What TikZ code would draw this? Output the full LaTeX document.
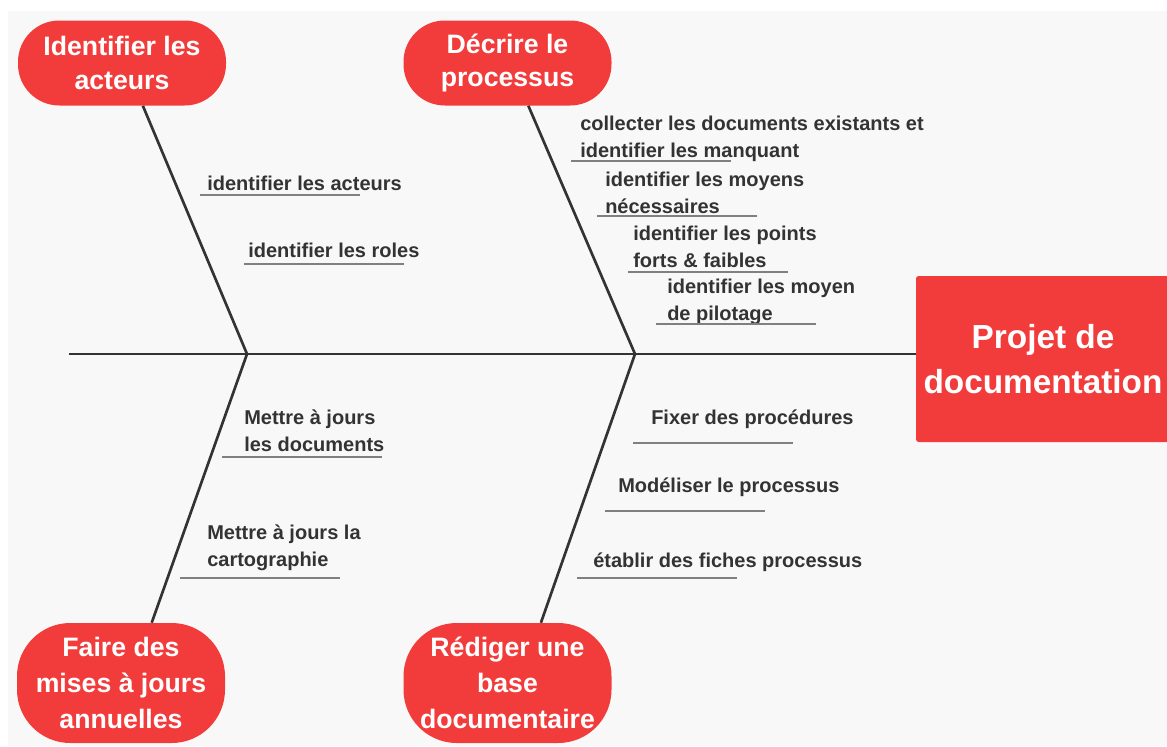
\documentclass[tikz,border=0pt]{standalone}
\usepackage{fontspec}
\setmainfont{Liberation Sans}
\definecolor{causered}{RGB}{242,60,60}
\definecolor{ink}{RGB}{51,51,51}
\definecolor{panel}{RGB}{248,248,248}

\begin{document}
\begin{tikzpicture}[x=0.75pt,y=-0.75pt,
  cause/.style={fill=causered, text=white, align=center, inner sep=0pt,
    font=\bfseries\fontsize{20}{27}\selectfont, minimum width=156pt},
  item/.style={anchor=base west, text=ink, align=left, inner sep=0pt,
    font=\bfseries\fontsize{15}{20}\selectfont},
  bone/.style={draw=ink, line width=2pt},
  uline/.style={draw=gray, line width=1.5pt}]
  \useasboundingbox (0,0) rectangle (1167,746);
  \fill[white] (0,0) rectangle (1167,746);
  \fill[panel] (8,11) rectangle (1167,746);

  % effect
  \node[fill=causered, text=white, align=center, inner sep=0pt, rounded corners=2pt,
    minimum width=190.5pt, minimum height=124.5pt,
    font=\bfseries\fontsize{25}{34}\selectfont] (projet) at (1043,359) {Projet de\\documentation};

  % causes
  \node[cause, minimum height=63.75pt, rounded corners=31pt,
    font=\bfseries\fontsize{20}{25}\selectfont] (acteurs) at (122,63) {Identifier les\\acteurs};
  \node[cause, minimum height=63.75pt, rounded corners=31pt,
    font=\bfseries\fontsize{20}{25}\selectfont] (processus) at (507.5,63) {Décrire le\\processus};
  \node[cause, minimum height=90pt, rounded corners=40pt] (annuelles) at (121,683) {Faire des\\mises à jours\\annuelles};
  \node[cause, minimum height=90pt, rounded corners=40pt] (base) at (507.5,683) {Rédiger une\\base\\documentaire};

  % spine and bones
  \coordinate (tail) at (69,354);
  \coordinate (j1) at (247,354);
  \coordinate (j2) at (635,354);
  \draw[bone] (tail) -- (tail -| projet.west);
  \draw[bone] (acteurs.-64) -- (j1) -- (annuelles.63);
  \draw[bone] (processus.-64) -- (j2) -- (base.61);

  % sub-causes (base = last line)
  \node[item] (act1) at (207,190) {identifier les acteurs};
  \node[item] (act2) at (248,257) {identifier les roles};
  \node[item] (pro1) at (580,157) {collecter les documents existants et\\identifier les manquant};
  \node[item] (pro2) at (605,213) {identifier les moyens\\nécessaires};
  \node[item] (pro3) at (633,267) {identifier les points\\forts \& faibles};
  \node[item] (pro4) at (667,320) {identifier les moyen\\de pilotage};
  \node[item] (maj1) at (244,451) {Mettre à jours\\les documents};
  \node[item] (maj2) at (207,566) {Mettre à jours la\\cartographie};
  \node[item] (red1) at (651,424) {Fixer des procédures};
  \node[item] (red2) at (618,492) {Modéliser le processus};
  \node[item] (red3) at (593,567) {établir des fiches processus};

  % underlines
  \foreach \x/\y in {200/195, 244/264, 571/161, 597/216, 628/272, 656/324,
                     222/457, 180/578, 633/443, 605/511, 577/578}
    \draw[uline] (\x,\y) -- ++(160,0);
\end{tikzpicture}
\end{document}
